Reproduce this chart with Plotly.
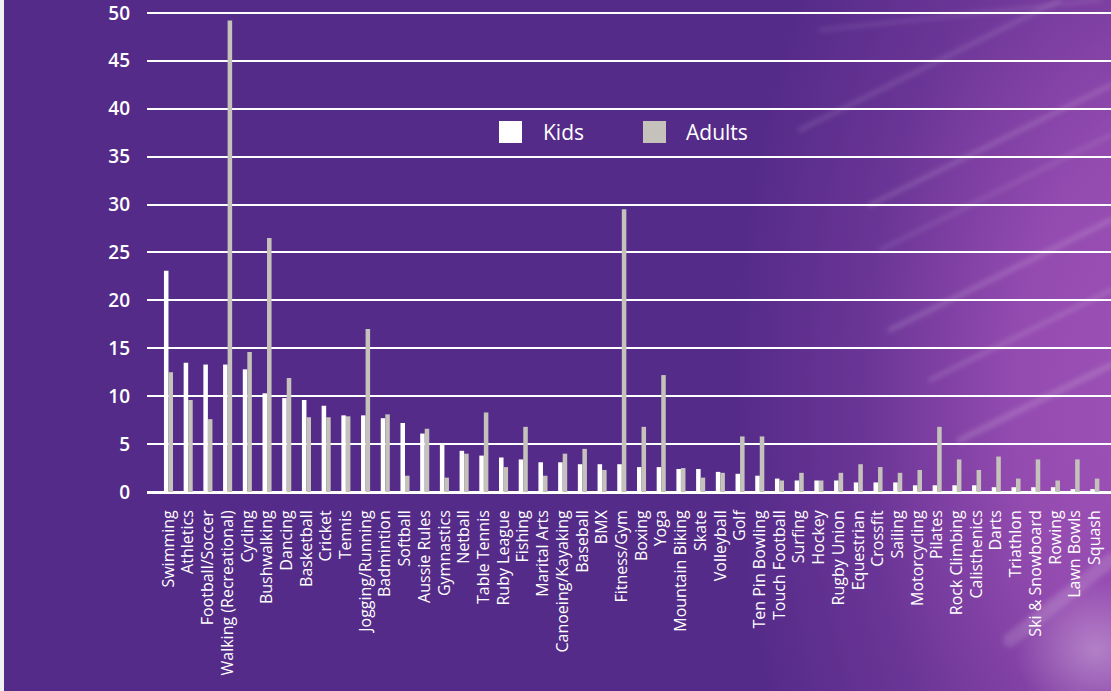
import base64
import plotly.graph_objects as go

categories = [
    "Swimming", "Athletics", "Football/Soccer", "Walking (Recreational)", "Cycling",
    "Bushwalking", "Dancing", "Basketball", "Cricket", "Tennis", "Jogging/Running",
    "Badmintion", "Softball", "Aussie Rules", "Gymnastics", "Netball", "Table Tennis",
    "Ruby League", "Fishing", "Marital Arts", "Canoeing/Kayaking", "Baseball", "BMX",
    "Fitness/Gym", "Boxing", "Yoga", "Mountain Biking", "Skate", "Volleyball", "Golf",
    "Ten Pin Bowling", "Touch Football", "Surfing", "Hockey", "Rugby Union", "Equestrian",
    "Crossfit", "Sailing", "Motorcycling", "Pilates", "Rock Climbing", "Calisthenics",
    "Darts", "Triathlon", "Ski & Snowboard", "Rowing", "Lawn Bowls", "Squash",
]
kids = [23.1, 13.5, 13.3, 13.3, 12.8, 10.3, 9.8, 9.6, 9.0, 8.0, 8.0, 7.7, 7.2, 6.1,
        5.0, 4.3, 3.8, 3.6, 3.4, 3.1, 3.1, 2.9, 2.9, 2.9, 2.6, 2.6, 2.4, 2.4, 2.1, 1.9,
        1.7, 1.4, 1.2, 1.2, 1.2, 1.0, 1.0, 1.0, 0.7, 0.7, 0.7, 0.7, 0.5, 0.5, 0.5, 0.5,
        0.3, 0.3]
adults = [12.5, 9.6, 7.6, 49.2, 14.6, 26.5, 11.9, 7.8, 7.8, 7.9, 17.0, 8.1, 1.7, 6.6,
          1.5, 4.0, 8.3, 2.6, 6.8, 1.7, 4.0, 4.5, 2.3, 29.5, 6.8, 12.2, 2.5, 1.5, 2.0, 5.8,
          5.8, 1.2, 2.0, 1.2, 2.0, 2.9, 2.6, 2.0, 2.3, 6.8, 3.4, 2.3, 3.7, 1.4, 3.4, 1.2,
          3.4, 1.4]
y_ticks = [0, 5, 10, 15, 20, 25, 30, 35, 40, 45, 50]
series_names = ["Kids", "Adults"]

W, H = 1111, 691
L, R, T, B = 147, 0, 10, 199
PW, PH = W - L - R, H - T - B
Y_TOP = 50.3

KIDS_COLOR = "#FFFFFF"
ADULT_COLOR = "#C5C2BB"
FONT = "Open Sans"

svg = f"""<svg xmlns='http://www.w3.org/2000/svg' width='{W}' height='{H}' viewBox='0 0 {W} {H}' preserveAspectRatio='none'>
<defs>
<radialGradient id='g' gradientUnits='userSpaceOnUse' cx='0' cy='0' r='1'
 gradientTransform='translate(1165 400) scale(430 760)'>
<stop offset='0' stop-color='#9E52B6'/>
<stop offset='0.35' stop-color='#944BB0'/>
<stop offset='0.7' stop-color='#6A3596'/>
<stop offset='1' stop-color='#552B89'/>
</radialGradient>
<radialGradient id='r' cx='0.5' cy='0.5' r='0.5'>
<stop offset='0' stop-color='#ffffff' stop-opacity='0.30'/>
<stop offset='1' stop-color='#ffffff' stop-opacity='0'/>
</radialGradient>
<filter id='b'><feGaussianBlur stdDeviation='2.5'/></filter>
</defs>
<rect width='{W}' height='{H}' fill='#552B89'/>
<rect width='{W}' height='{H}' fill='url(#g)'/>
<g stroke='#ffffff' stroke-linecap='round' filter='url(#b)' fill='none'>
<line x1='820' y1='30' x2='1100' y2='0' stroke-width='3' stroke-opacity='0.13'/>
<line x1='800' y1='130' x2='1060' y2='0' stroke-width='4' stroke-opacity='0.14'/>
<line x1='870' y1='205' x2='1111' y2='85' stroke-width='4' stroke-opacity='0.17'/>
<line x1='880' y1='250' x2='1111' y2='135' stroke-width='3' stroke-opacity='0.14'/>
<line x1='890' y1='330' x2='1111' y2='220' stroke-width='5' stroke-opacity='0.16'/>
<line x1='930' y1='380' x2='1111' y2='290' stroke-width='4' stroke-opacity='0.16'/>
<line x1='960' y1='440' x2='1111' y2='365' stroke-width='6' stroke-opacity='0.16'/>
<line x1='1010' y1='640' x2='1111' y2='560' stroke-width='14' stroke-opacity='0.14'/>
</g>
<ellipse cx='1095' cy='650' rx='80' ry='70' fill='url(#r)'/>
<rect x='0' y='0' width='4' height='{H}' fill='#F2F2F2'/>
</svg>"""
svg_uri = "data:image/svg+xml;base64," + base64.b64encode(svg.encode()).decode()

fig = go.Figure()
fig.add_trace(go.Bar(x=categories, y=kids, name=series_names[0],
                     marker=dict(color=KIDS_COLOR, line=dict(width=0)), showlegend=False))
fig.add_trace(go.Bar(x=categories, y=adults, name=series_names[1],
                     marker=dict(color=ADULT_COLOR, line=dict(width=0)), showlegend=False))


def px_x(p):
    return (p - L) / PW


def px_y(p):
    return (H - B - p) / PH


shapes = []
annotations = []
legend_items = [(series_names[0], KIDS_COLOR, 499, 541), (series_names[1], ADULT_COLOR, 643, 684)]
for name, color, sx, tx in legend_items:
    shapes.append(dict(type="rect", xref="paper", yref="paper",
                       x0=px_x(sx), x1=px_x(sx + 23), y0=px_y(143), y1=px_y(121),
                       fillcolor=color, line=dict(width=0), layer="above"))
    annotations.append(dict(text=name, xref="paper", yref="paper", x=px_x(tx), y=px_y(132),
                            xanchor="left", yanchor="middle", showarrow=False,
                            font=dict(family=FONT, size=21, color="#FFFFFF", weight=500)))

fig.update_layout(
    width=W, height=H,
    margin=dict(l=L, r=R, t=T, b=B, pad=0),
    paper_bgcolor="#552B89",
    plot_bgcolor="rgba(0,0,0,0)",
    barmode="group",
    bargap=0.54,
    bargroupgap=0,
    showlegend=False,
    shapes=shapes,
    annotations=annotations,
    images=[dict(source=svg_uri, xref="paper", yref="paper",
                 x=-L / PW, y=1 + T / PH, sizex=W / PW, sizey=H / PH,
                 xanchor="left", yanchor="top", sizing="stretch", layer="below")],
    xaxis=dict(
        range=[-1.09, 47.82],
        tickangle=-90,
        tickfont=dict(family=FONT, size=16, color="#FFFFFF", weight=500),
        showgrid=False,
        showline=False,
        ticks="",
        ticklabelstandoff=14,
        ticklabeloverflow="allow",
        fixedrange=True,
    ),
    yaxis=dict(
        range=[0, Y_TOP],
        tickvals=y_ticks,
        tickfont=dict(family=FONT, size=19, color="#FFFFFF", weight=600),
        showgrid=True,
        gridcolor="#FFFFFF",
        gridwidth=2,
        zeroline=True,
        zerolinecolor="#FFFFFF",
        zerolinewidth=3,
        showline=False,
        ticks="",
        ticklabelstandoff=16,
        ticklabeloverflow="allow",
        fixedrange=True,
    ),
)

fig.write_html(
    "out.html",
    config={"displayModeBar": False},
    post_script="document.body.style.margin='0';document.body.style.overflow='hidden';",
)
